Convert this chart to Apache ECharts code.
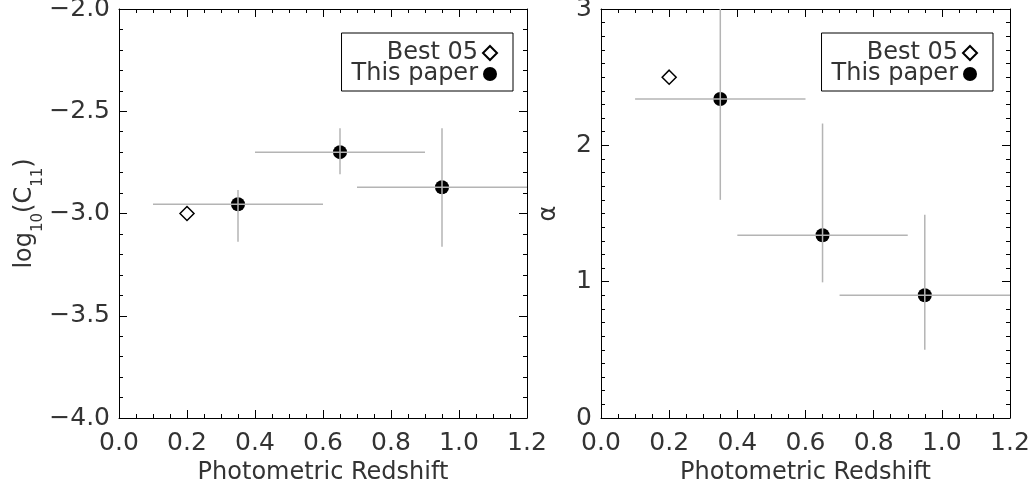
<!DOCTYPE html>
<html>
<head>
<meta charset="utf-8">
<script src="https://cdn.jsdelivr.net/npm/echarts@6/dist/echarts.min.js"></script>
<style>
html,body{margin:0;padding:0;background:#fff;}
#chart{width:1031px;height:491px;}
</style>
</head>
<body>
<div id="chart"></div>
<script>
// ---- data ----
const zCentre = [0.35, 0.65, 0.95];
const zLow = [0.1, 0.4, 0.7];
const zHigh = [0.6, 0.9, 1.2];
const logC11 = [-2.955, -2.70, -2.872];
const logC11Low = [-3.138, -2.808, -3.162];
const logC11High = [-2.885, -2.583, -2.583];
const alphaVal = [2.34, 1.34, 0.90];
const alphaLow = [1.60, 0.995, 0.50];
const alphaHigh = [3.0, 2.16, 1.49];
const best05Z = [0.2];
const best05LogC11 = [-3.0];
const best05Alpha = [2.5];
const xTicks = [0.0, 0.2, 0.4, 0.6, 0.8, 1.0, 1.2];
const leftYTicks = [-4.0, -3.5, -3.0, -2.5, -2.0];
const rightYTicks = [0, 1, 2, 3];
const legendNames = ['Best 05', 'This paper'];

const FONT = 'DejaVu Sans';
const TXT = '#333';
const ERR = '#b4b4b4';

function pts(xs, ys) { return xs.map((x, i) => [x, ys[i]]); }
function errRows(ys, lo, hi) {
  return zCentre.map((x, i) => [x, ys[i], zLow[i], zHigh[i], lo[i], hi[i]]);
}
function renderErr(params, api) {
  const x = api.value(0), y = api.value(1);
  const a = api.coord([api.value(2), y]), b = api.coord([api.value(3), y]);
  const c = api.coord([x, api.value(4)]), d = api.coord([x, api.value(5)]);
  const st = { stroke: ERR, lineWidth: 1.5 };
  return { type: 'group', children: [
    { type: 'line', shape: { x1: a[0], y1: a[1], x2: b[0], y2: b[1] }, style: st },
    { type: 'line', shape: { x1: c[0], y1: c[1], x2: d[0], y2: d[1] }, style: st }
  ]};
}
const fmt1 = v => (v < 0 ? '\u2212' : '') + Math.abs(v).toFixed(1);

function xAxisPair(grid) {
  const iv = xTicks[1] - xTicks[0];
  const base = {
    gridIndex: grid, type: 'value', min: xTicks[0], max: xTicks[xTicks.length - 1], interval: iv,
    axisLine: { show: true, onZero: false, lineStyle: { color: '#000', width: 1 } },
    axisTick: { show: true, inside: true, length: 8, lineStyle: { color: '#000' } },
    minorTick: { show: true, splitNumber: 4, length: 4, lineStyle: { color: '#000' } },
    splitLine: { show: false }
  };
  return [
    Object.assign({}, base, { position: 'bottom',
      axisLabel: { show: true, margin: 13, formatter: fmt1, fontSize: 25, fontFamily: FONT, color: TXT },
      name: 'Photometric Redshift', nameLocation: 'middle', nameGap: 43,
      nameTextStyle: { fontSize: 24, fontFamily: FONT, color: TXT } }),
    Object.assign({}, base, { position: 'top', axisLabel: { show: false } })
  ];
}
function yAxisPair(grid, ticks, minorSplit, labelFmt, name, nameGap, nameStyle) {
  const iv = ticks[1] - ticks[0];
  const base = {
    gridIndex: grid, type: 'value', min: ticks[0], max: ticks[ticks.length - 1], interval: iv,
    axisLine: { show: true, onZero: false, lineStyle: { color: '#000', width: 1 } },
    axisTick: { show: true, inside: true, length: 8, lineStyle: { color: '#000' } },
    minorTick: { show: true, splitNumber: minorSplit, length: 4, lineStyle: { color: '#000' } },
    splitLine: { show: false }
  };
  return [
    Object.assign({}, base, { position: 'left',
      axisLabel: { show: true, margin: 9, formatter: labelFmt, fontSize: 25, fontFamily: FONT, color: TXT },
      name: name, nameLocation: 'middle', nameRotate: 90, nameGap: nameGap,
      nameTextStyle: nameStyle }),
    Object.assign({}, base, { position: 'right', axisLabel: { show: false } })
  ];
}

const leftNameStyle = {
  fontSize: 24, fontFamily: FONT, color: TXT,
  rich: {
    m: { fontSize: 24, lineHeight: 24, fontFamily: FONT, color: TXT, verticalAlign: 'top' },
    s: { fontSize: 15, lineHeight: 15, fontFamily: FONT, color: TXT, verticalAlign: 'top', padding: [18, 0, 0, 0] }
  }
};
const rightNameStyle = { fontSize: 24, fontFamily: FONT, color: TXT };

function legendAt(right) {
  return {
    data: legendNames, orient: 'vertical', align: 'right', right: right, top: 33,
    padding: [8, 15, 5, 10], itemGap: -3, itemWidth: 14, itemHeight: 14,
    borderColor: '#000', borderWidth: 1, borderRadius: 0, backgroundColor: '#fff',
    selectedMode: false,
    textStyle: { fontSize: 24, fontFamily: FONT, color: TXT, lineHeight: 22 }
  };
}

const diamondStyle = { color: '#fff', borderColor: '#000', borderWidth: 1.5, opacity: 1 };
const circleStyle = { color: '#000', borderColor: '#000', borderWidth: 0, opacity: 1 };

const xs = xAxisPair(0).concat(xAxisPair(1));
const ys = yAxisPair(0, leftYTicks, 5, fmt1, '{m|log}{s|10}{m|(C}{s|11}{m|)}', 64, leftNameStyle)
  .concat(yAxisPair(1, rightYTicks, 10, v => String(Math.round(v)), '\u03b1', 40, rightNameStyle));

const option = {
  animation: false,
  backgroundColor: '#fff',
  grid: [
    { left: 119, top: 9, width: 408, height: 409, outerBoundsMode: 'none', containLabel: false },
    { left: 601, top: 9, width: 409, height: 409, outerBoundsMode: 'none', containLabel: false }
  ],
  legend: [legendAt(518), legendAt(38)],
  xAxis: xs,
  yAxis: ys,
  series: [
    { name: 'Best 05', type: 'scatter', xAxisIndex: 0, yAxisIndex: 0, symbol: 'diamond', symbolSize: [14, 14],
      itemStyle: diamondStyle, data: pts(best05Z, best05LogC11), z: 2 },
    { name: 'This paper', type: 'scatter', xAxisIndex: 0, yAxisIndex: 0, symbol: 'circle', symbolSize: 14,
      itemStyle: circleStyle, data: pts(zCentre, logC11), z: 2 },
    { name: 'errC11', type: 'custom', xAxisIndex: 0, yAxisIndex: 0, renderItem: renderErr,
      encode: { x: 0, y: 1 }, data: errRows(logC11, logC11Low, logC11High), z: 5, silent: true },
    { name: 'Best 05', type: 'scatter', xAxisIndex: 2, yAxisIndex: 2, symbol: 'diamond', symbolSize: [14, 14],
      itemStyle: diamondStyle, data: pts(best05Z, best05Alpha), z: 2 },
    { name: 'This paper', type: 'scatter', xAxisIndex: 2, yAxisIndex: 2, symbol: 'circle', symbolSize: 14,
      itemStyle: circleStyle, data: pts(zCentre, alphaVal), z: 2 },
    { name: 'errAlpha', type: 'custom', xAxisIndex: 2, yAxisIndex: 2, renderItem: renderErr,
      encode: { x: 0, y: 1 }, data: errRows(alphaVal, alphaLow, alphaHigh), z: 5, silent: true }
  ]
};
const chart = echarts.init(document.getElementById('chart'), null, { renderer: 'canvas' });
chart.setOption(option);
</script>
</body>
</html>
